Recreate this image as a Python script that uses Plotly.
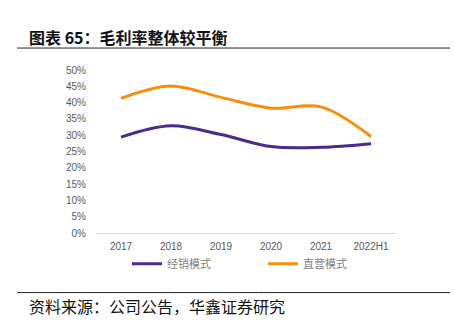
import plotly.graph_objects as go

categories = ["2017", "2018", "2019", "2020", "2021", "2022H1"]
distributor = [29.4, 32.9, 30.2, 26.5, 26.3, 27.4]
direct = [41.3, 45.1, 41.6, 38.3, 38.7, 29.6]
series_names = ["经销模式", "直营模式"]
yticks = [0, 5, 10, 15, 20, 25, 30, 35, 40, 45, 50]
title_text = "图表 65：毛利率整体较平衡"
source_text = "资料来源：公司公告，华鑫证券研究"

PURPLE = "#4b2a8e"
ORANGE = "#f98e0a"

fig = go.Figure()
fig.add_trace(go.Scatter(x=categories, y=distributor, name=series_names[0], mode="lines",
                         line=dict(color=PURPLE, width=3, shape="spline", smoothing=1.0)))
fig.add_trace(go.Scatter(x=categories, y=direct, name=series_names[1], mode="lines",
                         line=dict(color=ORANGE, width=3, shape="spline", smoothing=1.0)))

W, H = 454, 330
L, R = 96, 396
T, B = 70, 233.3

def px(x):
    return (x - L) / (R - L)

def py(y):
    return (H - y - (H - B)) / (B - T)

fig.update_layout(
    width=W, height=H,
    margin=dict(l=L, r=W - R, t=T, b=H - B, pad=0),
    paper_bgcolor="white", plot_bgcolor="white",
    font=dict(family="Liberation Sans, Arial, sans-serif", size=10, color="#595959"),
    showlegend=True,
    legend=dict(orientation="h", x=px(127), y=py(264), xanchor="left", yanchor="middle",
                entrywidth=91, entrywidthmode="pixels", itemwidth=30,
                font=dict(family="Noto Sans CJK SC", size=11, color="#7f7f7f"),
                bgcolor="rgba(0,0,0,0)", tracegroupgap=0),
    xaxis=dict(type="category", showgrid=False, showline=True, linecolor="#d9d9d9", linewidth=1,
               ticks="", tickfont=dict(size=10, color="#595959"), range=[-0.5, 5.5],
               fixedrange=True, ticklabelstandoff=4),
    yaxis=dict(range=[0, 50], tickvals=yticks, ticktext=[f"{v}%" for v in yticks],
               showgrid=False, zeroline=False, showline=False, ticks="",
               tickfont=dict(size=10, color="#595959"), fixedrange=True, ticklabelstandoff=9),
    shapes=[
        dict(type="line", xref="paper", yref="paper", x0=px(17), x1=px(450), y0=py(48), y1=py(48),
             line=dict(color="#222222", width=1)),
        dict(type="line", xref="paper", yref="paper", x0=px(17), x1=px(450), y0=py(293), y1=py(293),
             line=dict(color="#222222", width=1)),
    ],
    annotations=[
        dict(text="<b>" + title_text + "</b>", xref="paper", yref="paper", x=px(27), y=py(37),
             xanchor="left", yanchor="middle", showarrow=False,
             font=dict(family="Noto Sans CJK SC", size=16, color="#111111")),
        dict(text=source_text, xref="paper", yref="paper", x=px(27), y=py(306),
             xanchor="left", yanchor="middle", showarrow=False,
             font=dict(family="Noto Sans CJK SC", size=16, color="#111111")),
    ],
)

fig.write_html("out.html")
